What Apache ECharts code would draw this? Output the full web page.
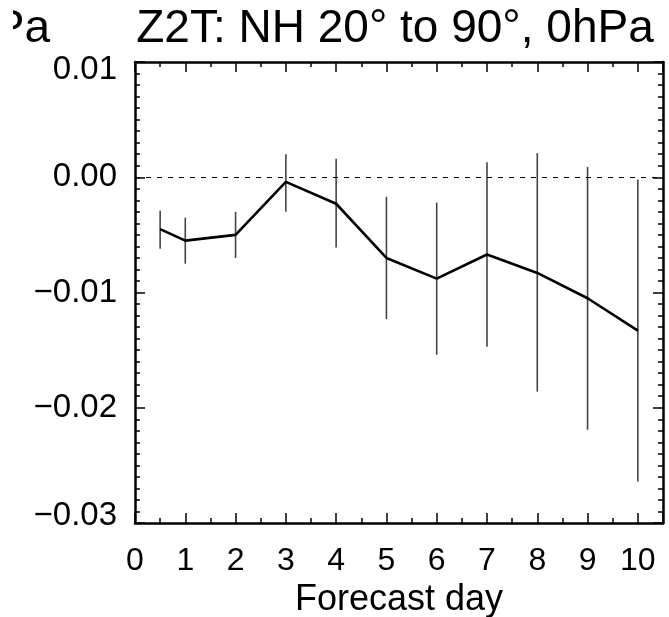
<!DOCTYPE html>
<html>
<head>
<meta charset="utf-8">
<script src="https://cdn.jsdelivr.net/npm/echarts@6/dist/echarts.min.js"></script>
<style>html,body{margin:0;padding:0;background:#fff;}#c{width:669px;height:617px;}</style>
</head>
<body>
<div id="c"></div>
<script>
const titleText = 'Z2T: NH 20\u00b0 to 90\u00b0, 0hPa';
const neighbourTitleTail = '0hPa';
const xAxisName = 'Forecast day';
const days  = [0.5, 1, 2, 3, 4, 5, 6, 7, 8, 9, 10];
const mean  = [-0.0045, -0.0055, -0.0050, -0.0004, -0.0023, -0.0070, -0.0088, -0.0067, -0.0083, -0.0105, -0.0133];
const lower = [-0.0062, -0.0075, -0.0070, -0.0030, -0.0061, -0.0123, -0.0154, -0.0147, -0.0186, -0.0219, -0.0264];
const upper = [-0.0029, -0.0035, -0.0030, 0.0020, 0.0016, -0.0017, -0.0022, 0.0013, 0.0021, 0.0009, -0.0002];
const yTickValues = [0.01, 0.00, -0.01, -0.02, -0.03];
const yTickLabels = ['0.01', '0.00', '\u22120.01', '\u22120.02', '\u22120.03'];

const FONT = 'Liberation Sans';
const chart = echarts.init(document.getElementById('c'), null, {renderer: 'canvas'});

function yLabel(v) {
  let idx = -1;
  for (let i = 0; i < yTickValues.length; i++) if (Math.abs(yTickValues[i] - v) < 1e-9) idx = i;
  if (idx < 0) return '';
  if (idx === 0) return '{top|' + yTickLabels[idx] + '}';
  if (idx === yTickValues.length - 1) return '{bot|' + yTickLabels[idx] + '}';
  return yTickLabels[idx];
}

const tickStyle = {color: '#000', width: 1.5};
const baseX = {
  type: 'value', min: 0, max: 10.5, interval: 1,
  axisLine: {onZero: false, lineStyle: {color: '#000', width: 2.5}},
  axisTick: {inside: true, length: 10, lineStyle: tickStyle},
  minorTick: {show: true, splitNumber: 2, length: 5, lineStyle: tickStyle},
  splitLine: {show: false}
};
const baseY = {
  type: 'value', min: -0.03, max: 0.01, interval: 0.01,
  axisLine: {onZero: false, lineStyle: {color: '#000', width: 2.5}},
  axisTick: {inside: true, length: 10, lineStyle: tickStyle},
  minorTick: {show: true, splitNumber: 10, length: 5, lineStyle: tickStyle},
  splitLine: {show: false}
};

const option = {
  animation: false,
  backgroundColor: '#fff',
  grid: {left: 135, right: 6, top: 62, bottom: 94, containLabel: false, outerBoundsMode: 'none'},
  xAxis: [
    Object.assign({}, baseX, {
      position: 'bottom',
      name: xAxisName, nameLocation: 'middle', nameGap: 59,
      nameTextStyle: {fontFamily: FONT, fontSize: 36, color: '#000'},
      axisLabel: {show: true, margin: 22, fontFamily: FONT, fontSize: 32, color: '#000',
        showMaxLabel: false,
        formatter: v => (Math.abs(v - Math.round(v)) < 1e-9 ? String(Math.round(v)) : '')}
    }),
    Object.assign({}, baseX, {position: 'top', axisLabel: {show: false}})
  ],
  yAxis: [
    Object.assign({}, baseY, {
      position: 'left',
      axisLabel: {show: true, margin: 18, fontFamily: FONT, fontSize: 33, color: '#000',
        formatter: yLabel,
        rich: {
          top: {fontFamily: FONT, fontSize: 33, color: '#000', padding: [16, 0, 0, 0]},
          bot: {fontFamily: FONT, fontSize: 33, color: '#000', padding: [0, 0, 14, 0]}
        }}
    }),
    Object.assign({}, baseY, {position: 'right', axisLabel: {show: false}})
  ],
  graphic: [
    {type: 'text', x: 395, y: 29, z: 10,
     style: {text: titleText, font: '46px "Liberation Sans"', fill: '#000', textAlign: 'center', textVerticalAlign: 'middle'}},
    {type: 'text', x: 50, y: 29, z: 10,
     style: {text: neighbourTitleTail, font: '46px "Liberation Sans"', fill: '#000', textAlign: 'right', textVerticalAlign: 'middle'}},
    {type: 'rect', shape: {x: 0, y: 0, width: 13, height: 55}, z: 11,
     style: {fill: '#fff'}}
  ],
  series: [
    {
      type: 'custom',
      name: 'spread',
      xAxisIndex: 0, yAxisIndex: 0,
      data: days.map((d, i) => [d, lower[i], upper[i]]),
      encode: {x: 0, y: [1, 2]},
      renderItem: function (params, api) {
        const x = api.value(0);
        const p1 = api.coord([x, api.value(1)]);
        const p2 = api.coord([x, api.value(2)]);
        return {type: 'line', shape: {x1: p1[0], y1: p1[1], x2: p2[0], y2: p2[1]},
                style: {stroke: '#444', lineWidth: 1.6}};
      },
      z: 2
    },
    {
      type: 'line',
      name: 'mean',
      xAxisIndex: 0, yAxisIndex: 0,
      data: days.map((d, i) => [d, mean[i]]),
      symbol: 'none',
      lineStyle: {color: '#000', width: 2.6},
      markLine: {
        silent: true, symbol: 'none', label: {show: false},
        lineStyle: {color: '#000', type: [5, 6], width: 1},
        data: [{yAxis: 0}]
      },
      z: 3
    }
  ]
};
chart.setOption(option);
</script>
</body>
</html>
